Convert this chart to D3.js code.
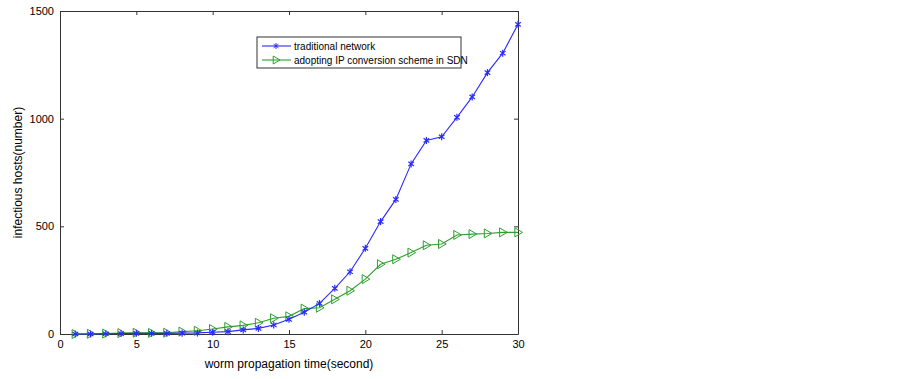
<!DOCTYPE html>
<html>
<head>
<meta charset="utf-8">
<script src="https://cdn.jsdelivr.net/npm/d3@7"></script>
<style>
  body { margin: 0; background: #fff; }
  svg text { font-family: "Liberation Sans", Arial, sans-serif; fill: #000; }
</style>
</head>
<body>
<div id="chart"></div>
<script>
const times = d3.range(1, 31);
const traditional = [0, 0, 1, 2, 3, 3, 3, 4, 5, 8, 11, 19, 26, 42, 68, 101, 142, 212, 289, 398,
  522, 625, 790, 899, 916, 1006, 1101, 1214, 1304, 1438];
const sdn = [0, 1, 2, 4, 6, 5, 6, 11, 15, 23, 33, 40, 52, 73, 82, 118, 122, 161, 201, 255,
  324, 347, 378, 412, 418, 460, 464, 467, 472, 472];
const xTicks = [0, 5, 10, 15, 20, 25, 30];
const yTicks = [0, 500, 1000, 1500];
const seriesNames = ['traditional network', 'adopting IP conversion scheme in SDN'];

const width = 903;
const height = 379;
const margin = { top: 11, right: 385, bottom: 45, left: 60 };
const innerW = width - margin.left - margin.right;
const innerH = height - margin.top - margin.bottom;

const svg = d3.select('#chart').append('svg')
  .attr('width', width)
  .attr('height', height);

const g = svg.append('g')
  .attr('transform', `translate(${margin.left},${margin.top})`);

const x = d3.scaleLinear().domain([0, 30]).range([0, innerW]);
const y = d3.scaleLinear().domain([0, 1500]).range([innerH, 0]);

// axes box with inward ticks (matlab style)
const axisColor = '#333';
g.append('g')
  .attr('transform', `translate(0,${innerH})`)
  .call(d3.axisBottom(x).tickValues(xTicks).tickSizeInner(-4).tickSizeOuter(0).tickPadding(6).tickFormat(d3.format('d')))
  .call((a) => a.selectAll('text').attr('font-size', 11));
g.append('g')
  .call(d3.axisTop(x).tickValues(xTicks).tickSizeInner(-4).tickSizeOuter(0).tickFormat(''));
g.append('g')
  .call(d3.axisLeft(y).tickValues(yTicks).tickSizeInner(-4).tickSizeOuter(0).tickPadding(6).tickFormat(d3.format('d')))
  .call((a) => a.selectAll('text').attr('font-size', 11));
g.append('g')
  .attr('transform', `translate(${innerW},0)`)
  .call(d3.axisRight(y).tickValues(yTicks).tickSizeInner(-4).tickSizeOuter(0).tickFormat(''));
g.selectAll('.domain, .tick line').attr('stroke', axisColor);

const line = d3.line().x((d, i) => x(times[i])).y((d) => y(d));

const blue = '#2a2aff';
const green = '#2ca02c';

function asterisk(sel, s) {
  sel.append('line').attr('x1', 0).attr('y1', -s).attr('x2', 0).attr('y2', s);
  sel.append('line').attr('x1', -s * 0.8).attr('y1', -s * 0.6).attr('x2', s * 0.8).attr('y2', s * 0.6);
  sel.append('line').attr('x1', -s * 0.8).attr('y1', s * 0.6).attr('x2', s * 0.8).attr('y2', -s * 0.6);
}
function triangle(sel, s) {
  sel.append('path').attr('d', `M${-s * 0.7},${-s}L${s},0L${-s * 0.7},${s}Z`)
    .attr('fill', 'none');
}

// green series
g.append('path').datum(sdn)
  .attr('d', line).attr('fill', 'none').attr('stroke', green).attr('stroke-width', 1.1);
g.selectAll('.tri').data(sdn).enter().append('g')
  .attr('class', 'tri')
  .attr('transform', (d, i) => `translate(${x(times[i])},${y(d)})`)
  .attr('stroke', green).attr('stroke-width', 1)
  .each(function () { triangle(d3.select(this), 4.5); });

// blue series
g.append('path').datum(traditional)
  .attr('d', line).attr('fill', 'none').attr('stroke', blue).attr('stroke-width', 1.1);
g.selectAll('.ast').data(traditional).enter().append('g')
  .attr('class', 'ast')
  .attr('transform', (d, i) => `translate(${x(times[i])},${y(d)})`)
  .attr('stroke', blue).attr('stroke-width', 1.2)
  .each(function () { asterisk(d3.select(this), 3.5); });

// legend
const legend = svg.append('g').attr('transform', 'translate(257,37)');
legend.append('rect').attr('width', 204).attr('height', 31)
  .attr('fill', '#fff').attr('stroke', axisColor).attr('stroke-width', 1);
[blue, green].forEach((c, i) => {
  const row = legend.append('g').attr('transform', `translate(0,${9 + i * 14})`);
  row.append('line').attr('x1', 5).attr('x2', 34).attr('stroke', c).attr('stroke-width', 1.1);
  const m = row.append('g').attr('transform', 'translate(19,0)').attr('stroke', c);
  if (i === 0) asterisk(m, 3); else triangle(m, 4);
  row.append('text').attr('x', 37).attr('y', 3.5).attr('font-size', 10).text(seriesNames[i]);
});

// axis labels
svg.append('text')
  .attr('x', margin.left + innerW / 2)
  .attr('y', 368)
  .attr('text-anchor', 'middle')
  .attr('font-size', 12)
  .text('worm propagation time(second)');
svg.append('text')
  .attr('transform', `translate(22,${margin.top + innerH / 2}) rotate(-90)`)
  .attr('text-anchor', 'middle')
  .attr('font-size', 12)
  .text('infectious hosts(number)');
</script>
</body>
</html>
